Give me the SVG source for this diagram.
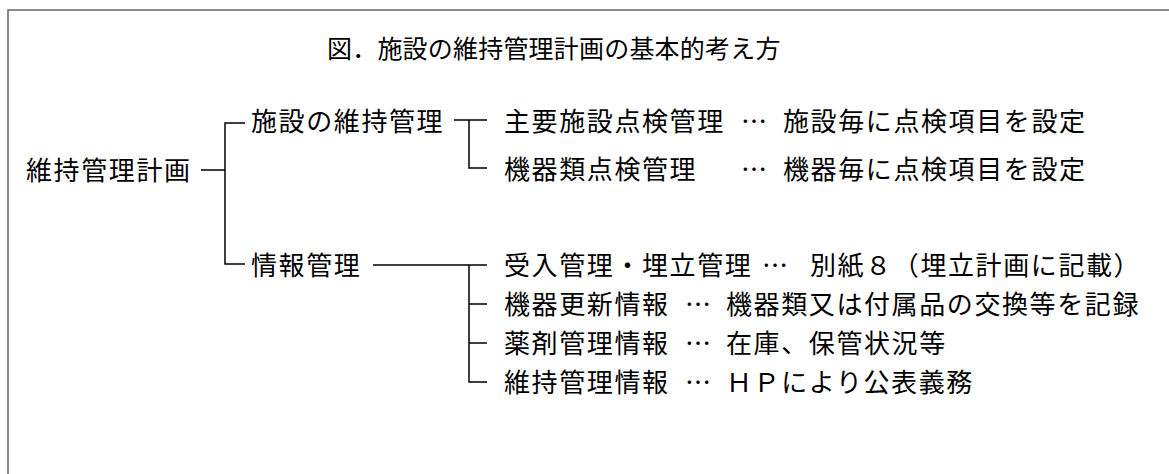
<svg xmlns="http://www.w3.org/2000/svg" width="1169" height="474" viewBox="0 0 1169 474">
<style>
text{font-family:"Noto Sans CJK JP","Noto Sans CJK SC",sans-serif;fill:#000;}
.t{font-size:26px;letter-spacing:1.6px;}
.e{font-size:26px;text-anchor:middle;}
.title{font-size:25px;letter-spacing:0.2px;}
.ln{stroke:#000;stroke-width:1.5;fill:none;}
</style>
<rect x="0" y="0" width="1169" height="474" fill="#fff"/>
<path d="M8,474 V10 H1169" stroke="#666" stroke-width="1.5" fill="none"/>
<g id="title"><text class="title" x="327" y="58">図．施設の維持管理計画の基本的考え方</text></g>
<g id="connectors">
<path class="ln" d="M201,170 H225 M245,123 H225 V264 H245"/>
<path class="ln" d="M454,120 H487 M469,120 V168 H487"/>
<path class="ln" d="M373,265 H487 M469,265 V382 H487 M469,304 H487 M469,343 H487"/>
</g>
<g id="root"><text class="t" x="26" y="180">維持管理計画</text></g>
<g id="n-shisetsu"><text class="t" x="251" y="131">施設の維持管理</text></g>
<g id="n-joho"><text class="t" x="251" y="275">情報管理</text></g>
<g id="n-shuyo"><text class="t" x="504" y="131">主要施設点検管理</text><text class="e" x="754" y="131">…</text><text class="t" x="783" y="131">施設毎に点検項目を設定</text></g>
<g id="n-kiki"><text class="t" x="504" y="179">機器類点検管理</text><text class="e" x="754" y="179">…</text><text class="t" x="783" y="179">機器毎に点検項目を設定</text></g>
<g id="n-ukeire"><text class="t" x="504" y="275">受入管理・埋立管理</text><text class="e" x="775" y="275">…</text><text class="t" x="810" y="275">別紙８（埋立計画に記載）</text></g>
<g id="n-koshin"><text class="t" x="504" y="314">機器更新情報</text><text class="e" x="698" y="314">…</text><text class="t" x="726" y="314">機器類又は付属品の交換等を記録</text></g>
<g id="n-yakuzai"><text class="t" x="504" y="353">薬剤管理情報</text><text class="e" x="698" y="353">…</text><text class="t" x="726" y="353">在庫、保管状況等</text></g>
<g id="n-iji"><text class="t" x="504" y="392">維持管理情報</text><text class="e" x="698" y="392">…</text><text class="t" x="726" y="392">ＨＰにより公表義務</text></g>
</svg>
